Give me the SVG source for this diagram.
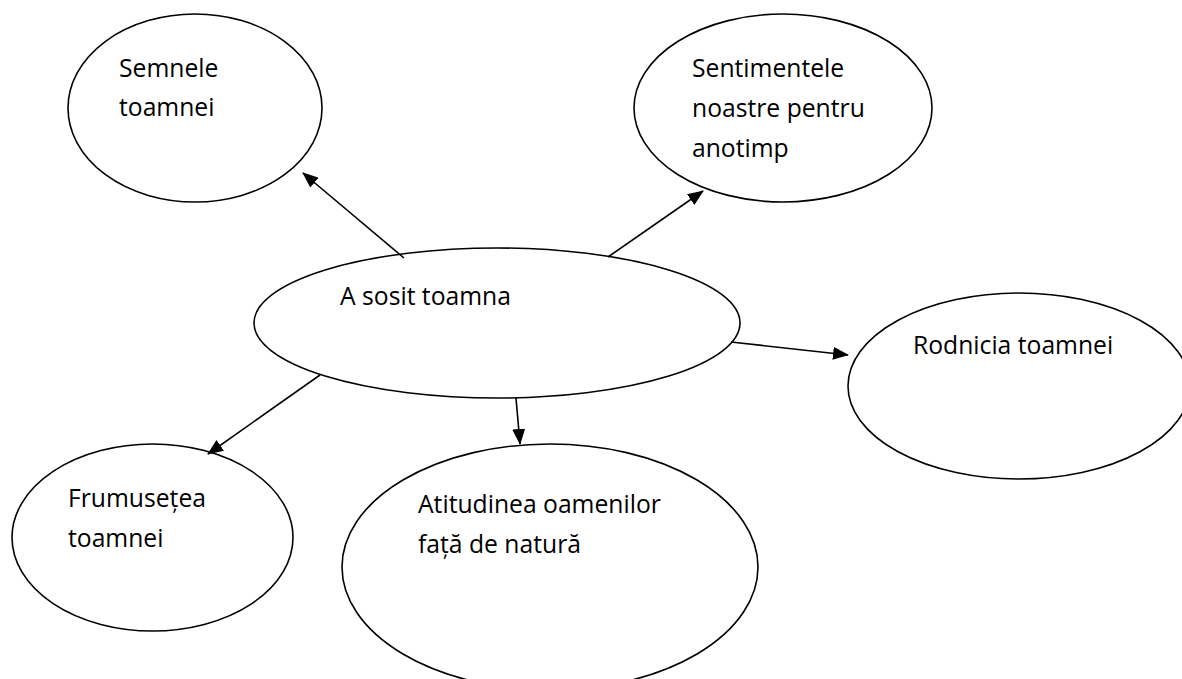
<svg xmlns="http://www.w3.org/2000/svg" width="1182" height="679" viewBox="0 0 1182 679">
  <style>
    .node ellipse { fill: #ffffff; stroke: #000000; stroke-width: 1.6; }
    .node text { font-family: "Open Sans", "Noto Sans", "Liberation Sans", sans-serif; font-size: 24.7px; fill: #000000; }
    .conn line { stroke: #000000; stroke-width: 1.6; marker-end: url(#arrow); }
  </style>
  <defs>
    <marker id="arrow" markerUnits="userSpaceOnUse" markerWidth="16" markerHeight="13" refX="15" refY="6.5" orient="auto">
      <path d="M0,0 L16,6.5 L0,13 Z" fill="#000000"/>
    </marker>
  </defs>
  <rect width="1182" height="679" fill="#ffffff"/>

  <g id="node-semnele" class="node">
    <ellipse cx="195" cy="108" rx="127" ry="94"/>
    <text x="119" y="77">Semnele</text>
    <text x="119" y="116">toamnei</text>
  </g>

  <g id="node-sentimentele" class="node">
    <ellipse cx="783" cy="108" rx="149" ry="94"/>
    <text x="692" y="77">Sentimentele</text>
    <text x="692" y="117">noastre pentru</text>
    <text x="692" y="157">anotimp</text>
  </g>

  <g id="node-central" class="node">
    <ellipse cx="497" cy="323" rx="243" ry="75"/>
    <text x="340" y="305">A sosit toamna</text>
  </g>

  <g id="node-rodnicia" class="node">
    <ellipse cx="1019" cy="386" rx="171" ry="93"/>
    <text x="913" y="354">Rodnicia toamnei</text>
  </g>

  <g id="node-frumusetea" class="node">
    <ellipse cx="152.5" cy="537.5" rx="140.5" ry="93.5"/>
    <text x="68" y="507">Frumusețea</text>
    <text x="68" y="547">toamnei</text>
  </g>

  <g id="node-atitudinea" class="node">
    <ellipse cx="550" cy="567" rx="208" ry="123"/>
    <text x="418" y="513">Atitudinea oamenilor</text>
    <text x="418" y="553">față de natură</text>
  </g>

  <g id="connectors" class="conn">
    <line x1="404" y1="258" x2="303" y2="173"/>
    <line x1="608" y1="257" x2="703" y2="191"/>
    <line x1="731" y1="342" x2="848" y2="355"/>
    <line x1="320" y1="375" x2="208" y2="454"/>
    <line x1="516" y1="398" x2="520" y2="444"/>
  </g>
</svg>
